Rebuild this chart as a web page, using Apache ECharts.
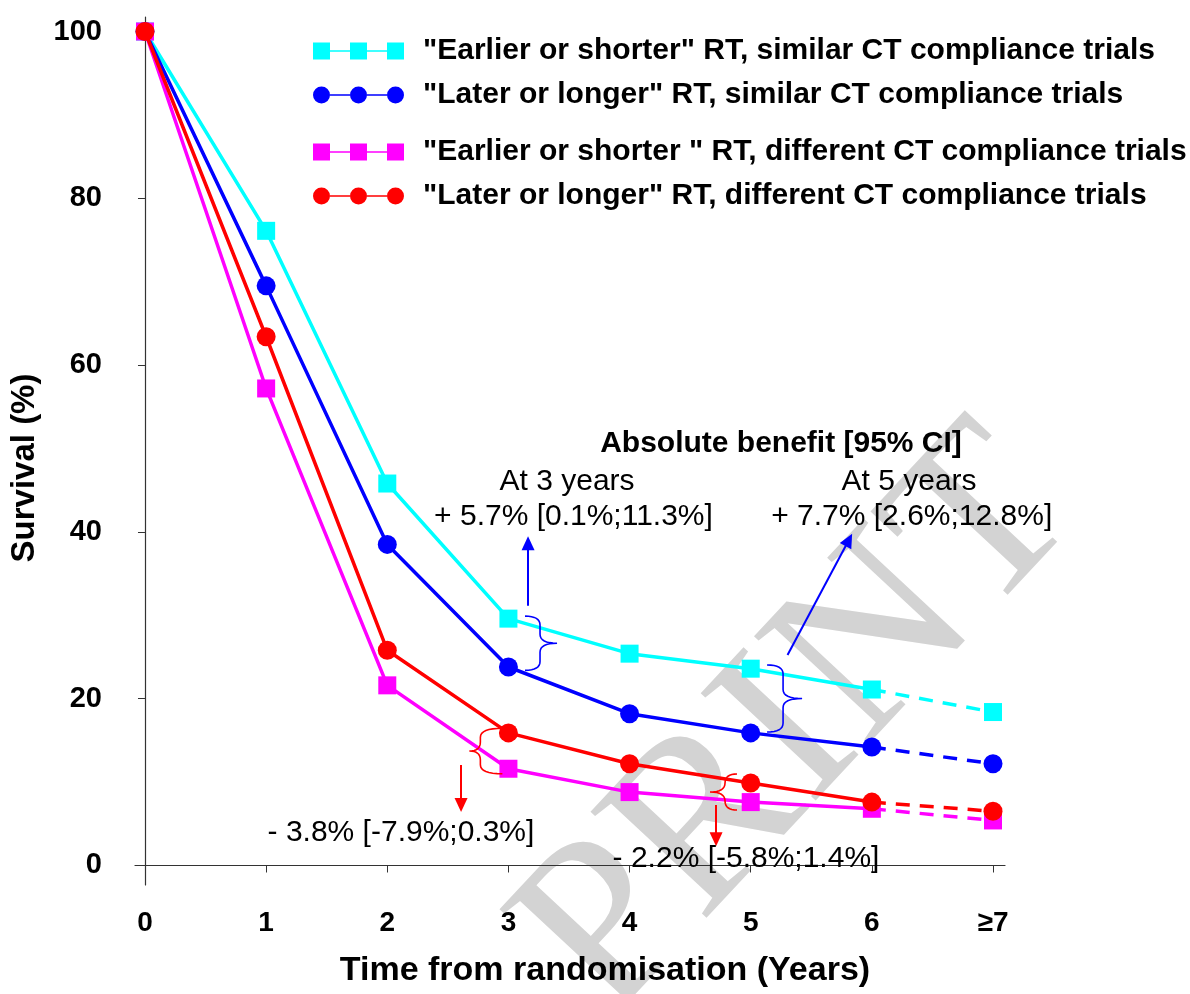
<!DOCTYPE html>
<html><head><meta charset="utf-8">
<script src="https://cdn.jsdelivr.net/npm/echarts@6/dist/echarts.min.js"></script>
<style>html,body{margin:0;padding:0;background:#fff}#c{width:1190px;height:994px}</style>
</head><body><div id="c"></div>
<script>
// ---------- data ----------
const years = [0, 1, 2, 3, 4, 5, 6, 7];
const xTickLabels = ['0', '1', '2', '3', '4', '5', '6', '≥7'];
const yTicks = [0, 20, 40, 60, 80, 100];
const cyanVals    = [100, 76.1, 45.8, 29.6, 25.4, 23.6, 21.1, 18.4];
const blueVals    = [100, 69.5, 38.5, 23.8, 18.2, 15.9, 14.2, 12.2];
const magentaVals = [100, 57.2, 21.6, 11.6, 8.8, 7.6, 6.8, 5.4];
const redVals     = [100, 63.4, 25.8, 15.9, 12.2, 9.9, 7.6, 6.5];
const seriesNames = [
  '"Earlier or shorter" RT, similar CT compliance trials',
  '"Later or longer" RT, similar CT compliance trials',
  '"Earlier or shorter " RT, different CT compliance trials',
  '"Later or longer" RT, different CT compliance trials'
];
const annoTexts = [
  {t: 'Absolute benefit [95% CI]', x: 5.25, y: 50.6, bold: true},
  {t: 'At 3 years', x: 3.484, y: 46.0},
  {t: '+ 5.7% [0.1%;11.3%]', x: 3.537, y: 41.8},
  {t: 'At 5 years', x: 6.307, y: 46.0},
  {t: '+ 7.7% [2.6%;12.8%]', x: 6.329, y: 41.8},
  {t: '- 3.8% [-7.9%;0.3%]', x: 2.113, y: 3.9},
  {t: '- 2.2% [-5.8%;1.4%]', x: 4.961, y: 0.8}
];
const blueArrows = [[[3.162, 31.15], [3.162, 38.63]], [[5.304, 25.24], [5.810, 39.03]]];
const redArrows  = [[[2.609, 12.05], [2.609, 7.25]], [[4.714, 7.25], [4.714, 3.14]]];
const braces = [
  {x: 3.137, y1: 29.9, y2: 23.4, dir: 1, w1: 15, w2: 17, c: '#0000ff'},
  {x: 5.135, y1: 24.04, y2: 16.0, dir: 1, w1: 16, w2: 19, c: '#0000ff'},
  {x: 2.95, y1: 16.45, y2: 11.0, dir: -1, w1: 22, w2: 11, c: '#ff0000'},
  {x: 4.887, y1: 10.97, y2: 6.65, dir: -1, w1: 12, w2: 15, c: '#ff0000'}
];
// ---------------------------

const FONT = '"Liberation Sans", Arial, sans-serif';
const colors = ['#00ffff', '#0000ff', '#ff00ff', '#ff0000'];
const symbols = ['rect', 'circle', 'rect', 'circle'];
const vals = [cyanVals, blueVals, magentaVals, redVals];

const sqIcon = 'path://M0,0h17v17h-17z M37,0h17v17h-17z M74,0h17v17h-17z M17,7.7h20v1.6h-20z M54,7.7h20v1.6h-20z';
const circ = (cx) => `M${cx-8.5},8.5a8.5,8.5 0 1,0 17,0a8.5,8.5 0 1,0 -17,0z`;
const ciIcon = 'path://' + circ(8.5) + ' ' + circ(45.5) + ' ' + circ(82.5) + ' M17,7.7h20v1.6h-20z M54,7.7h20v1.6h-20z';
const icons = [sqIcon, ciIcon, sqIcon, ciIcon];

const series = [];
vals.forEach((v, i) => {
  const solid = {
    name: seriesNames[i], type: 'line',
    data: years.slice(0, 7).map((y, k) => [y, v[k]]),
    symbol: symbols[i], symbolSize: i % 2 ? 19 : 18,
    lineStyle: {color: colors[i], width: 3.5},
    itemStyle: {color: colors[i]},
    z: 3 + i, animation: false
  };
  if (i === 1 || i === 3) {
    const arr = i === 1 ? blueArrows : redArrows;
    solid.markLine = {
      silent: true, animation: false,
      symbol: ['none', 'triangle'], symbolSize: [13, 14],
      label: {show: false},
      lineStyle: {color: colors[i], width: 2, type: 'solid'},
      data: arr.map(a => [{coord: a[0]}, {coord: a[1]}])
    };
  }
  series.push(solid);
  series.push({
    name: seriesNames[i], type: 'line',
    data: [{value: [years[6], v[6]], symbol: 'none'}, [years[7], v[7]]],
    symbol: symbols[i], symbolSize: i % 2 ? 19 : 18,
    lineStyle: {color: colors[i], width: 3.5, type: [14, 10]},
    itemStyle: {color: colors[i]},
    z: 3 + i, animation: false
  });
});

const legendText = {color: '#000', fontWeight: 'bold', fontSize: 30, fontFamily: FONT, padding: [0, 0, 0, 14]};
const chart = echarts.init(document.getElementById('c'));
chart.setOption({
  animation: false,
  backgroundColor: '#fff',
  grid: {left: 135, right: 185, top: 17, bottom: 109},
  legend: [
    {left: 313, top: 36, padding: 0, orient: 'vertical', itemWidth: 91, itemHeight: 17, itemGap: 14, selectedMode: false,
     data: [{name: seriesNames[0], icon: icons[0]}, {name: seriesNames[1], icon: icons[1]}], textStyle: legendText},
    {left: 313, top: 137, padding: 0, orient: 'vertical', itemWidth: 91, itemHeight: 17, itemGap: 14, selectedMode: false,
     data: [{name: seriesNames[2], icon: icons[2]}, {name: seriesNames[3], icon: icons[3]}], textStyle: legendText}
  ],
  xAxis: {
    type: 'value', min: -0.0825, max: 7.099,
    name: 'Time from randomisation (Years)', nameLocation: 'middle', nameGap: 69,
    nameTextStyle: {color: '#000', fontWeight: 'bold', fontSize: 34, fontFamily: FONT, padding: [0, 0, 0, 70]},
    axisLine: {show: true, lineStyle: {color: '#333', width: 1.2}},
    axisTick: {show: true, length: 7, customValues: years, lineStyle: {color: '#333'}},
    axisLabel: {customValues: years, formatter: v => xTickLabels[years.indexOf(v)] || '',
      color: '#000', fontWeight: 'bold', fontSize: 28, fontFamily: FONT, margin: 24},
    splitLine: {show: false}
  },
  yAxis: {
    type: 'value', min: -2.34, max: 101.74,
    name: 'Survival (%)', nameLocation: 'middle', nameGap: 94, nameRotate: 90,
    nameTextStyle: {color: '#000', fontWeight: 'bold', fontSize: 33, fontFamily: FONT, padding: [0, 34, 0, 0]},
    axisLine: {show: true, lineStyle: {color: '#333', width: 1.2}},
    axisTick: {show: true, length: 7, customValues: yTicks, lineStyle: {color: '#333'}},
    axisLabel: {customValues: yTicks, color: '#000', fontWeight: 'bold', fontSize: 29, fontFamily: FONT, margin: 33},
    splitLine: {show: false}
  },
  series: series
});

const px = (x, y) => chart.convertToPixel({gridIndex: 0}, [x, y]);
const graphics = [];
// watermark
graphics.push({
  type: 'text', x: 800, y: 725, rotation: 47 * Math.PI / 180, z: 0, silent: true,
  style: {text: 'PRINT', fill: '#d3d3d3', font: '240px "Liberation Serif", "Times New Roman", serif',
    textAlign: 'center', textVerticalAlign: 'middle', align: 'center', verticalAlign: 'middle'}
});
annoTexts.forEach(a => {
  const p = px(a.x, a.y);
  graphics.push({
    type: 'text', x: p[0], y: p[1], z: 50, silent: true,
    style: {text: a.t, fill: '#000', font: (a.bold ? 'bold 30px ' : '30px ') + FONT,
      textAlign: 'center', textVerticalAlign: 'middle', align: 'center', verticalAlign: 'middle'}
  });
});
function quad(pts, p0, p1, p2) {
  for (let k = 1; k <= 8; k++) {
    const t = k / 8, u = 1 - t;
    pts.push([u*u*p0[0] + 2*u*t*p1[0] + t*t*p2[0], u*u*p0[1] + 2*u*t*p1[1] + t*t*p2[1]]);
  }
}
braces.forEach(b => {
  const top = px(b.x, b.y1), bot = px(b.x, b.y2);
  const x0 = top[0], yT = top[1], yB = bot[1], ym = (yT + yB) / 2;
  const r = Math.min(9, (yB - yT) / 4);
  const xv = x0 + b.dir * b.w1, xt = x0 + b.dir * (b.w1 + b.w2);
  const pts = [[x0, yT]];
  quad(pts, [x0, yT], [xv, yT], [xv, yT + r]);
  pts.push([xv, ym - r]);
  quad(pts, [xv, ym - r], [xv, ym], [xt, ym]);
  quad(pts, [xt, ym], [xv, ym], [xv, ym + r]);
  pts.push([xv, yB - r]);
  quad(pts, [xv, yB - r], [xv, yB], [x0, yB]);
  graphics.push({type: 'polyline', z: 50, silent: true, shape: {points: pts},
    style: {stroke: b.c, lineWidth: 1.6, fill: null}});
});
chart.setOption({graphic: graphics});
</script></body></html>
